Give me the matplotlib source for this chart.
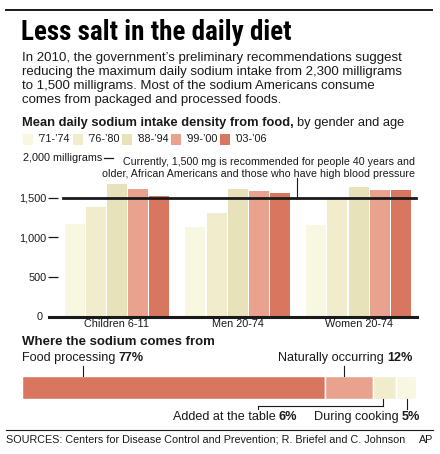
import matplotlib
matplotlib.use("Agg")
import matplotlib.pyplot as plt
from matplotlib import font_manager
from matplotlib.patches import Rectangle
from matplotlib.lines import Line2D

# figure size in pixels (dpi 100)
W = 440
H = 454

GROUPS = ["Children 6-11", "Men 20-74", "Women 20-74"]
PERIODS = ["\u201971-\u201974", "\u201976-\u201980", "\u201988-\u201994",
           "\u201999-\u201900", "\u201903-\u201906"]
PERIOD_COLORS = ["#F8F7E1", "#F1EDCC", "#E7E2B9", "#E8A28D", "#D9765F"]

# mean daily sodium intake density, mg, one list per period (children, men, women)
SODIUM_71_74 = [1167, 1130, 1155]
SODIUM_76_80 = [1382, 1306, 1495]
SODIUM_88_94 = [1671, 1608, 1633]
SODIUM_99_00 = [1608, 1583, 1596]
SODIUM_03_06 = [1520, 1558, 1596]
SODIUM = [SODIUM_71_74, SODIUM_76_80, SODIUM_88_94, SODIUM_99_00, SODIUM_03_06]

Y_TICKS = [0, 500, 1000, 1500]
Y_TICK_LABELS = ["0", "500", "1,000", "1,500"]
RECOMMENDED = 1500

SOURCES = ["Food processing", "Naturally occurring", "Added at the table",
           "During cooking"]
SHARES = [77, 12, 6, 5]
SOURCE_COLORS = ["#D9765F", "#E8A28D", "#F1EDCC", "#F8F7E1"]

INK = "#1a1a1a"
FONT = "Liberation Sans"
SMALL = 7.8


def fx(x):
    ''' pixel x -> figure fraction '''
    return x / W


def fy(y):
    ''' pixel y (from top) -> figure fraction '''
    return 1 - y / H


def hline(fig, x0, x1, y, lw=1.0):
    fig.add_artist(Line2D([fx(x0), fx(x1)], [fy(y), fy(y)], color=INK, lw=lw))


def vline(fig, x, y0, y1, lw=0.8):
    fig.add_artist(Line2D([fx(x), fx(x)], [fy(y0), fy(y1)], color=INK, lw=lw))


def title_font():
    ''' Picks a condensed bold face if one is installed, else None '''
    names = set()
    condensed = set()
    for f in font_manager.fontManager.ttflist:
        names.add(f.name)
        if f.stretch in ("condensed", "semi-condensed"):
            condensed.add(f.name)
    for n in ["Liberation Sans Narrow", "Roboto Condensed",
              "Open Sans Condensed", "DejaVu Sans Condensed"]:
        if n in names:
            return dict(family=n)
    for n in ["DejaVu Sans", "Open Sans", "Roboto"]:
        if n in condensed:
            return dict(family=n, fontstretch="condensed")
    return None


def text_run(fig, x, y, parts, size):
    ''' Draws pieces of text one after another on a line, each with
        its own weight, starting at pixel x.
    '''
    renderer = fig.canvas.get_renderer()
    for s, weight in parts:
        t = fig.text(fx(x), fy(y), s, fontsize=size, fontweight=weight,
                     family=FONT, color=INK, va="center", ha="left")
        box = t.get_window_extent(renderer)
        x = x + box.width + 3.2


def plot_intake(fig):
    ''' grouped bars of sodium intake by period '''
    left, right = 48, 417
    base, top = 316.7, 158.0
    ax = fig.add_axes([fx(left), fy(base), fx(right - left), (base - top) / H])

    step = 0.1755
    width = 0.166
    for i in range(len(PERIODS)):
        xs = [g + (i - 2) * step for g in range(len(GROUPS))]
        ax.bar(xs, SODIUM[i], width=width, color=PERIOD_COLORS[i],
               linewidth=0)

    ax.set_xlim(-0.571, 2.484)
    ax.set_ylim(0, 2000)
    for s in ax.spines.values():
        s.set_visible(False)
    ax.set_facecolor("none")

    ax.axhline(0, xmin=1 / 369, xmax=1, color=INK, lw=2.2, clip_on=False)
    ax.axhline(RECOMMENDED, xmin=15 / 369, xmax=368 / 369, color=INK,
               lw=2.0, clip_on=False)

    ax.set_yticks(Y_TICKS[1:])
    ax.set_yticklabels(Y_TICK_LABELS[1:], fontsize=SMALL, family=FONT,
                       color=INK)
    ax.tick_params(axis="y", direction="in", length=7.2, width=0.9,
                   pad=1, color=INK)
    ax.set_xticks(range(len(GROUPS)))
    ax.set_xticklabels(GROUPS, fontsize=SMALL, family=FONT, color=INK)
    ax.tick_params(axis="x", length=0, pad=2)

    fig.text(fx(43), fy(316.7), "0", fontsize=SMALL, family=FONT, color=INK,
             ha="right", va="center")
    fig.text(fx(102), fy(158), "2,000 milligrams", fontsize=SMALL,
             family=FONT, color=INK, ha="right", va="center")
    hline(fig, 104, 113, 158, lw=0.9)

    fig.text(fx(415), fy(168),
             "Currently, 1,500 mg is recommended for people 40 years and\n"
             "older, African Americans and those who have high blood pressure",
             fontsize=7.65, family=FONT, color=INK, ha="right", va="center",
             multialignment="right", linespacing=1.15)
    vline(fig, 297, 178, 197)


def plot_legend(fig):
    sq_x = [23, 73, 122, 171, 220]
    for i in range(len(PERIODS)):
        fig.add_artist(Rectangle((fx(sq_x[i]), fy(145)), fx(10), 11 / H,
                                 facecolor=PERIOD_COLORS[i], edgecolor="none"))
        fig.text(fx(sq_x[i] + 14), fy(139.5), PERIODS[i], fontsize=SMALL,
                 family=FONT, color=INK, va="center")


def plot_sources(fig):
    ''' stacked horizontal bar of where the sodium comes from '''
    ax = fig.add_axes([fx(22), fy(399), fx(394), 23 / H])
    start = 0
    for i in range(len(SOURCES)):
        ax.barh(0, SHARES[i], left=start, height=1, color=SOURCE_COLORS[i],
                edgecolor="white", linewidth=1.0)
        start += SHARES[i]
    ax.set_xlim(0, 100)
    ax.set_ylim(-0.5, 0.5)
    ax.axis("off")

    text_run(fig, 22, 358, [(SOURCES[0], "normal"), ("77%", "bold")], 9.05)
    text_run(fig, 278, 358, [(SOURCES[1], "normal"), ("12%", "bold")], 9.05)
    text_run(fig, 173, 417, [(SOURCES[2], "normal"), ("6%", "bold")], 9.05)
    text_run(fig, 314, 417, [(SOURCES[3], "normal"), ("5%", "bold")], 9.05)

    vline(fig, 83, 366, 376)
    vline(fig, 344, 366, 376)
    vline(fig, 383, 399, 405.7)
    hline(fig, 258, 383, 405.7, lw=0.8)
    vline(fig, 258, 405.7, 409)
    vline(fig, 407, 399, 409)


def main():
    plt.rcParams["font.family"] = FONT
    fig = plt.figure(figsize=(W / 100, H / 100), dpi=100)

    hline(fig, 6, 432, 10, lw=1.4)
    tf = title_font()
    if tf is None:
        tf = dict(family=FONT)
        tsize = 16.3
    else:
        tsize = 19.5
    fig.text(fx(21), fy(33), "Less salt in the daily diet", fontweight="bold",
             fontsize=tsize, color="black", va="center", **tf)

    body = ["In 2010, the government\u2019s preliminary recommendations suggest",
            "reducing the maximum daily sodium intake from 2,300 milligrams",
            "to 1,500 milligrams. Most of the sodium Americans consume",
            "comes from packaged and processed foods."]
    for i in range(len(body)):
        fig.text(fx(22), fy(58 + 14 * i), body[i], fontsize=9.55,
                 family=FONT, color=INK, va="center")

    text_run(fig, 22, 123, [("Mean daily sodium intake density from food,",
                             "bold"), ("by gender and age", "normal")], 9.25)
    plot_legend(fig)
    plot_intake(fig)

    fig.text(fx(22), fy(342), "Where the sodium comes from", fontsize=9.55,
             fontweight="bold", family=FONT, color=INK, va="center")
    plot_sources(fig)

    hline(fig, 6, 433, 430, lw=0.8)
    fig.text(fx(6), fy(440),
             "SOURCES: Centers for Disease Control and Prevention; "
             "R. Briefel and C. Johnson",
             fontsize=7.75, family=FONT, color=INK, va="center")
    fig.text(fx(433), fy(440), "AP", fontsize=7.75, family=FONT, color=INK,
             va="center", ha="right")

    fig.savefig("out.png", dpi=100)


main()
